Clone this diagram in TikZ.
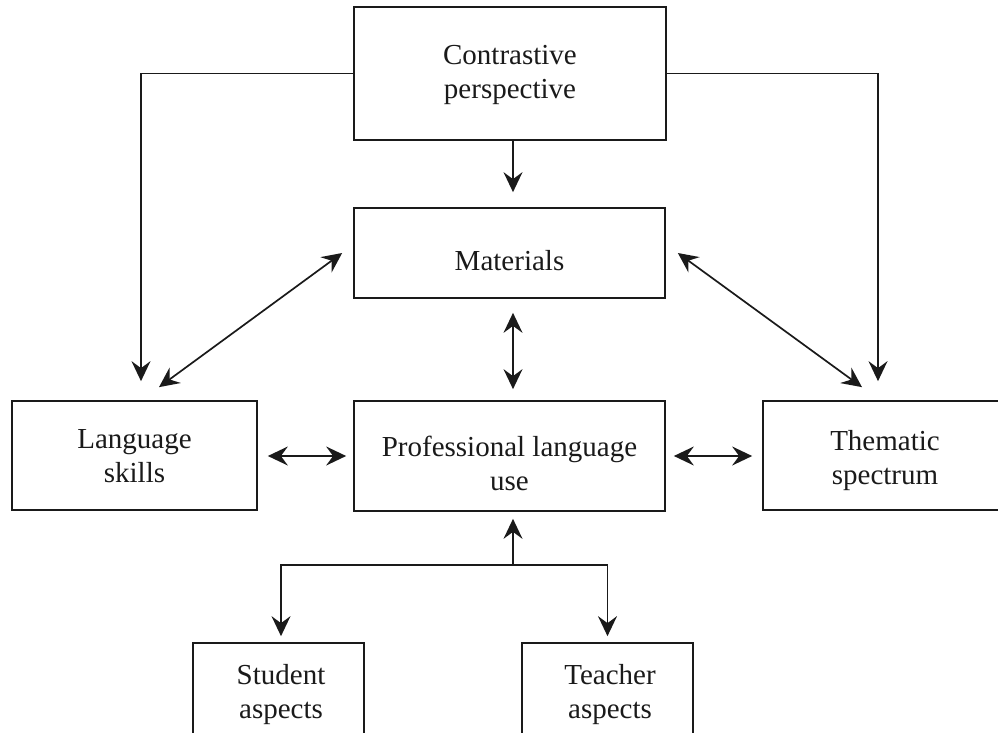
\documentclass[tikz,border=0pt]{standalone}
\usepackage{fontspec}
\setmainfont{Liberation Serif}
\usetikzlibrary{arrows.meta,calc}
\definecolor{ink}{HTML}{1A1A1A}
\tikzset{
  box/.style={draw=ink, line width=1.7pt, rectangle, inner sep=0pt},
  lbl/.style={anchor=base, inner sep=0pt, text=ink, font=\fontsize{29}{34}\selectfont},
  conn/.style={draw=ink, line width=1.7pt},
  tip/.style={-{Stealth[length=20pt,width=19pt,inset=7pt]}},
  both/.style={{Stealth[length=20pt,width=19pt,inset=7pt]}-{Stealth[length=20pt,width=19pt,inset=7pt]}}
}
\begin{document}
\begin{tikzpicture}[x=1pt,y=-1pt]
\useasboundingbox (0,0) rectangle (998,733);
\clip (0,0) rectangle (998,733);
\fill[white] (0,0) rectangle (998,733);
% boxes
\node[box, minimum width=312pt, minimum height=133pt] (cp) at (510,73.5) {};
\node[box, minimum width=311pt, minimum height=90pt] (mat) at (509.5,253) {};
\node[box, minimum width=245pt, minimum height=109pt] (ls) at (134.5,455.5) {};
\node[box, minimum width=311pt, minimum height=110pt] (prof) at (509.5,456) {};
\node[box, minimum width=244pt, minimum height=109pt] (th) at (885,455.5) {};
\node[box, minimum width=171pt, minimum height=130pt] (st) at (278.5,708) {};
\node[box, minimum width=171pt, minimum height=130pt] (te) at (607.5,708) {};
% labels
\node[lbl] (cp1) at (510,65) {Contrastive};
\node[lbl] (cp2) at (510,99) {perspective};
\node[lbl] (mat1) at (509.5,270) {Materials};
\node[lbl] (ls1) at (134.5,448) {Language};
\node[lbl] (ls2) at (134.5,482) {skills};
\node[lbl] (pr1) at (509.5,456) {Professional language};
\node[lbl] (pr2) at (509.5,490) {use};
\node[lbl] (th1) at (885,450) {Thematic};
\node[lbl] (th2) at (885,484) {spectrum};
\node[lbl] (st1) at (281,684) {Student};
\node[lbl] (st2) at (281,718) {aspects};
\node[lbl] (te1) at (610,684) {Teacher};
\node[lbl] (te2) at (610,718) {aspects};
% connectors
\draw[conn,tip] (cp.west) -| ($(ls.north)+(6.5,-19)$);
\draw[conn,tip] (cp.east) -| ($(th.north)+(-7,-19)$);
\draw[conn,tip] ($(cp.south)+(3,0)$) -- ($(mat.north)+(3.5,-15)$);
\draw[conn,both] ($(mat.south)+(3.5,14)$) -- ($(prof.north)+(3.5,-11)$);
\draw[conn,both] ($(mat.west)+(-11,0)$) -- ($(ls.north)+(24.5,-13)$);
\draw[conn,both] ($(mat.east)+(12,0)$) -- ($(th.north)+(-23,-13)$);
\draw[conn,both] ($(ls.east)+(10,0.5)$) -- ($(prof.west)+(-7,0)$);
\draw[conn,both] ($(prof.east)+(8,0)$) -- ($(th.west)+(-10,0.5)$);
\coordinate (fork) at ($(prof.south)+(3.5,53)$);
\draw[conn,tip] (fork) -- ($(prof.south)+(3.5,7)$);
\draw[conn,tip] (fork) -| ($(st.north)+(2.5,-6)$);
\draw[conn,tip] (fork) -| ($(te.north)+(0,-6)$);
\end{tikzpicture}
\end{document}
